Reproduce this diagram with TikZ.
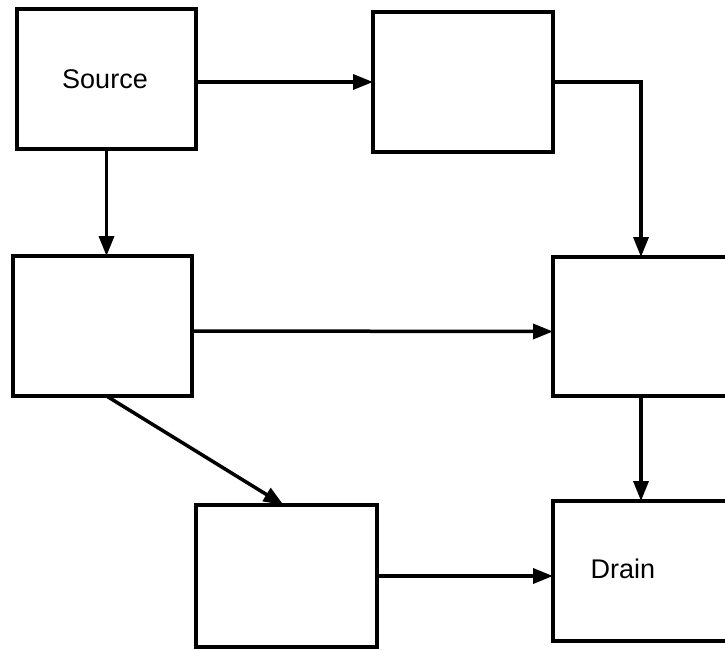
\documentclass[tikz,border=0pt]{standalone}
\usepackage{fontspec}
\setmainfont{Liberation Sans}
\usetikzlibrary{arrows.meta,calc}
\begin{document}
\begin{tikzpicture}[x=1pt,y=-1pt,
  box/.style={draw=black,line width=3.5pt,minimum width=#1,inner sep=0pt,outer sep=0pt,fill=none},
  lbl/.style={font=\fontsize{27}{32}\selectfont,inner sep=0pt},
  conn/.style={draw=black,line width=3.5pt,-{Triangle[length=20pt,width=15pt]}}]
\useasboundingbox (0,0) rectangle (725,650);
\clip (0,0) rectangle (725,650);
\node[box=179pt,minimum height=140pt] (src) at (106.5,79) {};
\node[lbl] (srctext) at (105,79) {Source};
\node[box=180pt,minimum height=140pt] (tr) at (463,82) {};
\node[box=179pt,minimum height=140pt] (lm) at (102.5,326) {};
\node[box=176pt,minimum height=139pt] (rm) at (641,326.5) {};
\node[box=181pt,minimum height=142pt] (bm) at (286.5,576) {};
\node[box=176pt,minimum height=140pt] (dr) at (641,571) {};
\node[lbl] (drtext) at (623,569) {Drain};
\draw[conn] (src.east |- tr.west) -- (tr.west);
\draw[conn] (src.south) -- (src.south |- lm.north);
\draw[conn] (tr.east) -| (rm.north);
\draw[conn] ($(lm.east)+(0,5)$) -- ($(rm.west)+(0,5)$);
\draw[conn] ([xshift=4pt]lm.south) -- ([xshift=-3pt]bm.north);
\draw[conn] (rm.south) -- (dr.north);
\draw[conn] (bm.east) -- (bm.east -| dr.west);
\end{tikzpicture}
\end{document}
